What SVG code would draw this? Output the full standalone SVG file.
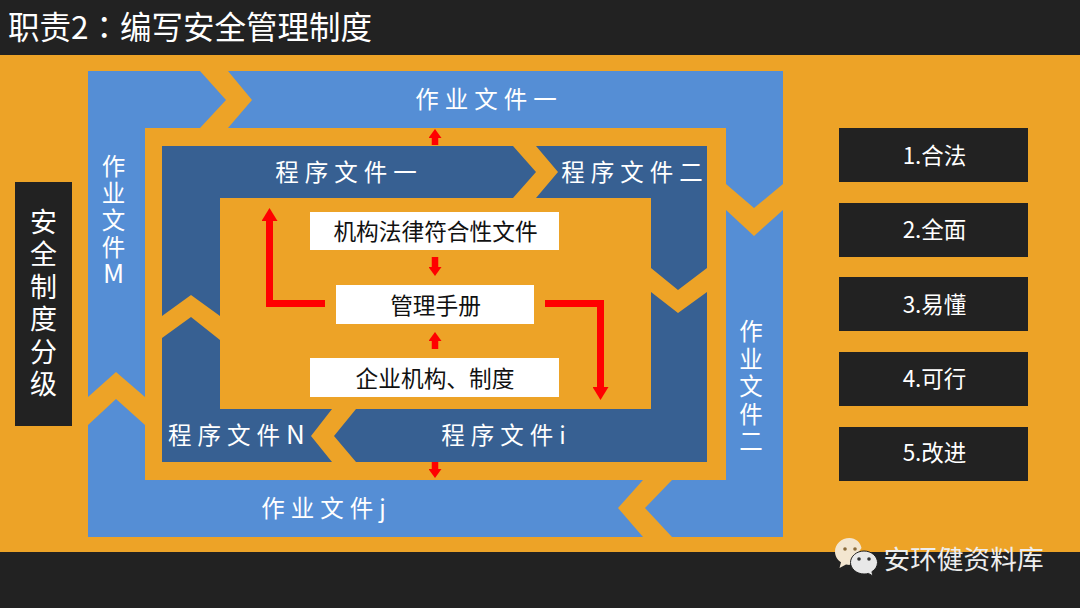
<svg xmlns="http://www.w3.org/2000/svg" width="1080" height="608" viewBox="0 0 1080 608">
<style>
text{font-family:"Noto Sans CJK SC","Noto Sans",sans-serif}
.b{fill:#558ed5}.d{fill:#376092}.k{fill:#222222}.w{fill:#fff}
.lb{fill:#fff;font-size:23.500px;letter-spacing:6px;text-anchor:middle}
.vl{fill:#fff;font-size:23.500px;text-anchor:middle}
.bt{fill:#111;font-size:22.700px;text-anchor:middle}
.rt{fill:#fff;font-size:22.500px;text-anchor:middle}
.ar{fill:none;stroke:#f00}
</style>
<defs>
<marker id="big" markerUnits="userSpaceOnUse" markerWidth="13" markerHeight="16" refX="0.500" refY="8" orient="auto" viewBox="0 0 13 16"><path d="M0 0L13 8L0 16Z" fill="#f00"/></marker>
<marker id="sm" markerUnits="userSpaceOnUse" markerWidth="9" markerHeight="13" refX="0.500" refY="6.500" orient="auto" viewBox="0 0 9 13"><path d="M0 0L9 6.500L0 13Z" fill="#f00"/></marker>
</defs>
<rect width="1080" height="608" class="k"/>
<rect y="55" width="1080" height="497" fill="#eda327"/>
<text id="title" x="8" y="39" fill="#fff" font-size="31.500">职责2<tspan style="font-family:'Noto Sans CJK TC',sans-serif">：</tspan>编写安全管理制度</text>

<g id="doc-m"><polygon class="b" points="88,71 200,71 226,100 200,128 145,128 145,397 116,372 88,397"/>
<text class="vl" x="113.500" y="175">作<tspan x="113.500" dy="27">业</tspan><tspan x="113.500" dy="27">文</tspan><tspan x="113.500" dy="27">件</tspan><tspan x="113.500" dy="27" font-size="26">M</tspan></text></g>
<g id="doc-1"><polygon class="b" points="228,71 783,71 783,184 754,208 726,184 726,128 228,128 252,100"/>
<text class="lb" x="489" y="108">作业文件一</text></g>
<g id="doc-2"><polygon class="b" points="726,210 754,236 783,210 783,537 672,537 645,508 672,480 726,480"/>
<text class="vl" x="751" y="340">作<tspan x="751" dy="27.500">业</tspan><tspan x="751" dy="27.500">文</tspan><tspan x="751" dy="27.500">件</tspan><tspan x="751" dy="27.500">二</tspan></text></g>
<g id="doc-j"><polygon class="b" points="88,425 116,399 145,425 145,480 643,480 618,508 643,537 88,537"/>
<text class="lb" x="326.500" y="517">作业文件j</text></g>

<g id="proc-1"><polygon class="d" points="162,146 513,146 536,172 513,198 220,198 220,316 191,295 162,316"/>
<text class="lb" x="349" y="181">程序文件一</text></g>
<g id="proc-2"><polygon class="d" points="536,146 707,146 707,268 678,290 651,268 651,198 536,198 558,172"/>
<text class="lb" x="635" y="181">程序文件二</text></g>
<g id="proc-i"><polygon class="d" points="651,292 678,313 707,292 707,462 356,462 334,436 356,409 651,409"/>
<text class="lb" x="506.500" y="444">程序文件i</text></g>
<g id="proc-n"><polygon class="d" points="162,338 191,317 220,340 220,409 332,409 311,436 332,462 162,462"/>
<text class="lb" x="239.500" y="444">程序文件<tspan font-size="26">N</tspan></text></g>

<g id="box-law"><rect class="w" x="310" y="212" width="249" height="38"/><text class="bt" x="435.500" y="240">机构法律符合性文件</text></g>
<g id="box-manual"><rect class="w" x="336" y="285" width="198" height="39"/><text class="bt" x="435.500" y="314">管理手册</text></g>
<g id="box-ent"><rect class="w" x="310" y="358" width="249" height="39"/><text class="bt" x="435" y="387">企业机构、制度</text></g>

<g id="connectors">
<path class="ar" stroke-width="7" d="M325 303.500H269.500V220.500" marker-end="url(#big)"/>
<path class="ar" stroke-width="7" d="M545 303.500H600.500V387.500" marker-end="url(#big)"/>
<path class="ar" stroke-width="6.500" d="M435 145V137.500" marker-end="url(#sm)"/>
<path class="ar" stroke-width="6.500" d="M435 257V267.500" marker-end="url(#sm)"/>
<path class="ar" stroke-width="6.500" d="M435 349V340.500" marker-end="url(#sm)"/>
<path class="ar" stroke-width="6.500" d="M435 462V469.500" marker-end="url(#sm)"/>
</g>

<g id="side"><rect class="k" x="15" y="182" width="57" height="244"/>
<text class="rt" style="font-size:27px" x="43.500" y="232">安<tspan x="43.500" dy="32.400">全</tspan><tspan x="43.500" dy="32.400">制</tspan><tspan x="43.500" dy="32.400">度</tspan><tspan x="43.500" dy="32.400">分</tspan><tspan x="43.500" dy="32.400">级</tspan></text></g>

<g id="r1"><rect class="k" x="839" y="128" width="189" height="54"/><text class="rt" x="934.500" y="164">1.合法</text></g>
<g id="r2"><rect class="k" x="839" y="203" width="189" height="54"/><text class="rt" x="934.500" y="238">2.全面</text></g>
<g id="r3"><rect class="k" x="839" y="277" width="189" height="54"/><text class="rt" x="934.500" y="313">3.易懂</text></g>
<g id="r4"><rect class="k" x="839" y="352" width="189" height="54"/><text class="rt" x="934.500" y="387">4.可行</text></g>
<g id="r5"><rect class="k" x="839" y="427" width="189" height="54"/><text class="rt" x="934.500" y="461">5.改进</text></g>

<g id="wechat">
<path d="M849.500 538c-8 0-14.500 6-14.500 13.500 0 4.500 2.300 8.300 6 10.800l-1.500 5.700 6.500-3.500c1.200.3 2.500.5 3.500.5l12-17c-1-5.700-6-10-12-10z" fill="#f3e6d0"/>
<path d="M864 551c-7.400 0-13.500 5.300-13.500 11.500s6.100 11.500 13.500 11.500c1.500 0 3-.2 4.400-.6l4.600 2.600-1.100-4.300c3.400-2.100 5.600-5.400 5.600-9.200 0-6.200-6.100-11.500-13.500-11.500z" fill="#e8e8e8" stroke="#222" stroke-width="1"/>
<circle cx="845" cy="549" r="1.800" fill="#8a6a3a"/><circle cx="855" cy="549" r="1.800" fill="#8a6a3a"/>
<circle cx="859" cy="559" r="1.800" fill="#333"/><circle cx="869" cy="559" r="1.800" fill="#333"/>
<text x="883.500" y="569" fill="#eee" font-size="26.700">安环健资料库</text>
</g>
</svg>
